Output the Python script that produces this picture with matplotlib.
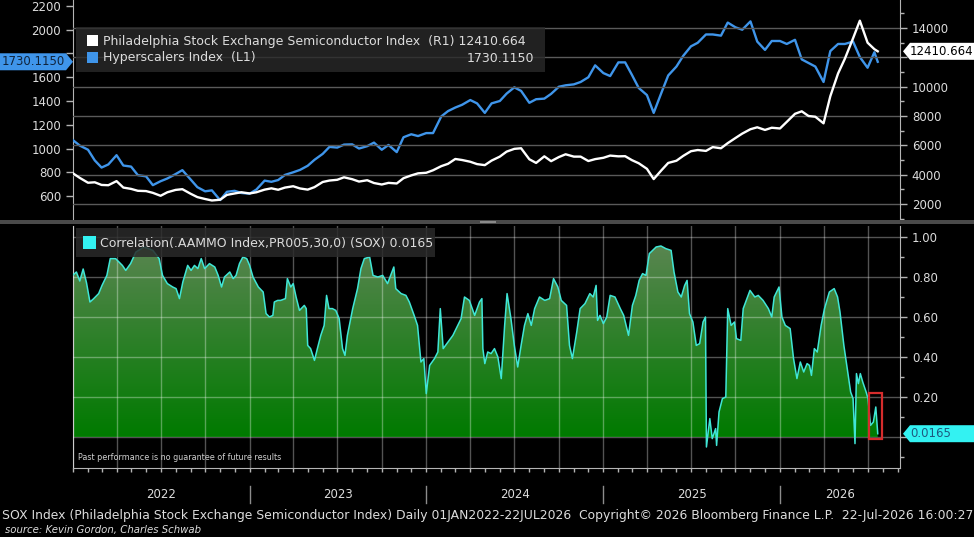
import numpy as np
import pandas as pd
import matplotlib
matplotlib.use('Agg')
import matplotlib.pyplot as plt
import matplotlib.dates as mdates
from matplotlib.colors import LinearSegmentedColormap
from matplotlib.patches import Rectangle, Polygon
from matplotlib.lines import Line2D
from matplotlib.ticker import MultipleLocator, FuncFormatter
from matplotlib.transforms import blended_transform_factory, IdentityTransform

# ---- data ----
# top panel: 1st and 15th of each month, Jan 2022 .. Jul 2026, plus last print
top_dates = list(pd.date_range('2022-01-01', '2026-07-15', freq='SMS')) + [pd.Timestamp('2026-07-22')]

hyper_vals = [
    1070, 1025, 990, 900, 840, 866, 944, 857, 848, 776, 766, 692,
    725, 748, 785, 818, 740, 675, 640, 648, 566, 636, 644, 626,
    620, 655, 730, 720, 735, 778, 800, 820, 855, 905, 955, 1014,
    1008, 1033, 1035, 1000, 1020, 1050, 990, 1030, 970, 1095, 1120, 1105,
    1130, 1130, 1270, 1315, 1345, 1368, 1408, 1380, 1300, 1380, 1400, 1462,
    1515, 1485, 1385, 1415, 1420, 1460, 1520, 1532, 1540, 1560, 1600, 1700,
    1635, 1610, 1725, 1725, 1620, 1510, 1450, 1300, 1470, 1615, 1690, 1780,
    1860, 1890, 1960, 1960, 1950, 2060, 2020, 2000, 2070, 1900, 1830, 1905,
    1905, 1880, 1915, 1750, 1720, 1690, 1560, 1820, 1880, 1880, 1900, 1770,
    1680, 1810, 1730.115,
]

sox_vals = [
    4091, 3780, 3450, 3480, 3300, 3280, 3560, 3120, 3030, 2900, 2880, 2760,
    2560, 2800, 2960, 3010, 2700, 2470, 2340, 2240, 2290, 2620, 2720, 2800,
    2720, 2800, 2980, 3068, 2970, 3120, 3210, 3060, 2980, 3150, 3500, 3600,
    3650, 3820, 3690, 3530, 3620, 3430, 3330, 3440, 3400, 3760, 3950, 4090,
    4130, 4300, 4580, 4740, 5070, 5000, 4880, 4720, 4650, 4960, 5230, 5570,
    5760, 5800, 5050, 4800, 5250, 4920, 5200, 5390, 5230, 5230, 4930, 5060,
    5150, 5300, 5250, 5260, 4990, 4780, 4400, 3700, 4300, 4800, 4950, 5280,
    5600, 5680, 5620, 5880, 5800, 6150, 6500, 6800, 7100, 7230, 7050, 7200,
    7150, 7600, 8150, 8320, 8000, 7950, 7500, 9350, 10900, 11900, 13300, 14500,
    13000, 12560, 12410.664,
]

# bottom panel: 30-day rolling correlation
corr_dates = [
    '2022-01-01', '2022-01-08', '2022-01-15', '2022-01-22', '2022-01-25', '2022-01-29',
    '2022-02-05', '2022-02-12', '2022-02-23', '2022-03-02', '2022-03-12', '2022-03-19',
    '2022-03-30', '2022-04-13', '2022-04-20', '2022-04-30', '2022-05-11', '2022-05-28',
    '2022-06-15', '2022-06-28', '2022-07-05', '2022-07-15', '2022-07-26', '2022-08-02',
    '2022-08-09', '2022-08-16', '2022-08-26', '2022-09-02', '2022-09-09', '2022-09-16',
    '2022-09-23', '2022-09-30', '2022-10-10', '2022-10-21', '2022-10-28', '2022-11-04',
    '2022-11-10', '2022-11-21', '2022-11-28', '2022-12-04', '2022-12-11', '2022-12-18',
    '2022-12-26', '2023-01-01', '2023-01-08', '2023-01-19', '2023-01-29', '2023-02-04',
    '2023-02-11', '2023-02-18', '2023-02-21', '2023-02-28', '2023-03-06', '2023-03-16',
    '2023-03-20', '2023-03-27', '2023-04-01', '2023-04-07', '2023-04-14', '2023-04-24',
    '2023-04-28', '2023-05-01', '2023-05-07', '2023-05-15', '2023-05-21', '2023-05-28',
    '2023-06-04', '2023-06-09', '2023-06-14', '2023-06-21', '2023-06-28', '2023-07-05',
    '2023-07-12', '2023-07-17', '2023-07-22', '2023-08-02', '2023-08-12', '2023-08-19',
    '2023-08-26', '2023-09-06', '2023-09-13', '2023-09-23', '2023-10-03', '2023-10-13',
    '2023-10-26', '2023-10-30', '2023-11-10', '2023-11-20', '2023-11-27', '2023-12-07',
    '2023-12-14', '2023-12-21', '2023-12-27', '2024-01-01', '2024-01-08', '2024-01-18',
    '2024-01-25', '2024-01-30', '2024-02-05', '2024-02-15', '2024-02-25', '2024-03-06',
    '2024-03-13', '2024-03-20', '2024-03-30', '2024-04-10', '2024-04-20', '2024-04-25',
    '2024-04-27', '2024-05-01', '2024-05-07', '2024-05-14', '2024-05-21', '2024-05-28',
    '2024-06-04', '2024-06-11', '2024-06-16', '2024-06-24', '2024-07-01', '2024-07-08',
    '2024-07-15', '2024-07-22', '2024-07-29', '2024-08-05', '2024-08-12', '2024-08-22',
    '2024-09-02', '2024-09-12', '2024-09-20', '2024-09-29', '2024-10-06', '2024-10-17',
    '2024-10-23', '2024-10-29', '2024-11-07', '2024-11-14', '2024-11-24', '2024-12-04',
    '2024-12-11', '2024-12-17', '2024-12-20', '2024-12-25', '2025-01-01', '2025-01-08',
    '2025-01-15', '2025-01-25', '2025-02-05', '2025-02-12', '2025-02-22', '2025-03-02',
    '2025-03-09', '2025-03-16', '2025-03-23', '2025-03-30', '2025-04-06', '2025-04-20',
    '2025-04-30', '2025-05-10', '2025-05-21', '2025-05-27', '2025-06-04', '2025-06-11',
    '2025-06-18', '2025-06-23', '2025-06-28', '2025-07-05', '2025-07-12', '2025-07-19',
    '2025-07-26', '2025-07-31', '2025-08-02', '2025-08-09', '2025-08-14', '2025-08-21',
    '2025-08-23', '2025-08-28', '2025-09-04', '2025-09-11', '2025-09-15', '2025-09-22',
    '2025-09-29', '2025-10-03', '2025-10-12', '2025-10-17', '2025-10-31', '2025-11-10',
    '2025-11-17', '2025-11-27', '2025-12-08', '2025-12-15', '2025-12-20', '2025-12-30',
    '2026-01-05', '2026-01-12', '2026-01-22', '2026-01-29', '2026-02-05', '2026-02-12',
    '2026-02-19', '2026-02-26', '2026-03-03', '2026-03-07', '2026-03-13', '2026-03-19',
    '2026-03-27', '2026-04-03', '2026-04-13', '2026-04-23', '2026-04-30', '2026-05-05',
    '2026-05-13', '2026-05-20', '2026-05-27', '2026-06-01', '2026-06-05', '2026-06-08',
    '2026-06-12', '2026-06-16', '2026-06-21', '2026-06-28', '2026-07-02', '2026-07-07',
    '2026-07-13', '2026-07-18', '2026-07-22',
]
corr_vals = [
    0.81, 0.825, 0.78, 0.84, 0.81, 0.77,
    0.675, 0.69, 0.717, 0.758, 0.808, 0.892,
    0.892, 0.858, 0.833, 0.867, 0.925, 0.95,
    0.933, 0.892, 0.808, 0.767, 0.75, 0.742,
    0.692, 0.775, 0.858, 0.833, 0.858, 0.842,
    0.892, 0.842, 0.867, 0.85, 0.808, 0.75,
    0.80, 0.825, 0.792, 0.808, 0.867, 0.90,
    0.892, 0.858, 0.80, 0.75, 0.725, 0.617,
    0.60, 0.608, 0.675, 0.683, 0.683, 0.692,
    0.792, 0.75, 0.767, 0.70, 0.633, 0.658,
    0.642, 0.458, 0.442, 0.383, 0.442, 0.508,
    0.558, 0.708, 0.642, 0.642, 0.633, 0.592,
    0.442, 0.408, 0.508, 0.642, 0.742, 0.842,
    0.892, 0.90, 0.808, 0.80, 0.808, 0.767,
    0.85, 0.742, 0.717, 0.708, 0.675, 0.608,
    0.558, 0.375, 0.392, 0.217, 0.358, 0.392,
    0.425, 0.642, 0.442, 0.475, 0.508, 0.558,
    0.592, 0.70, 0.683, 0.608, 0.675, 0.692,
    0.442, 0.367, 0.425, 0.417, 0.442, 0.40,
    0.292, 0.558, 0.717, 0.592, 0.458, 0.35,
    0.458, 0.558, 0.617, 0.558, 0.642, 0.70,
    0.683, 0.692, 0.792, 0.75, 0.683, 0.658,
    0.458, 0.392, 0.525, 0.642, 0.667, 0.717,
    0.70, 0.758, 0.583, 0.608, 0.567, 0.60,
    0.708, 0.70, 0.642, 0.608, 0.508, 0.658,
    0.708, 0.783, 0.817, 0.808, 0.917, 0.95,
    0.955, 0.942, 0.933, 0.825, 0.725, 0.70,
    0.758, 0.783, 0.617, 0.575, 0.458, 0.467,
    0.575, 0.60, -0.05, 0.092, -0.008, 0.042,
    -0.042, 0.125, 0.192, 0.20, 0.642, 0.558,
    0.575, 0.492, 0.483, 0.642, 0.733, 0.70,
    0.708, 0.683, 0.642, 0.60, 0.70, 0.75,
    0.60, 0.558, 0.542, 0.392, 0.292, 0.375,
    0.325, 0.367, 0.358, 0.308, 0.442, 0.425,
    0.558, 0.642, 0.725, 0.742, 0.70, 0.625,
    0.458, 0.342, 0.225, 0.192, -0.033, 0.317,
    0.267, 0.317, 0.275, 0.225, 0.192, 0.058,
    0.075, 0.15, 0.0165,
]

years = [2022, 2023, 2024, 2025, 2026]
x_start, x_end = pd.Timestamp('2022-01-01'), pd.Timestamp('2026-09-06')

# red highlight box on the last few weeks
box_start, box_end = pd.Timestamp('2026-07-03'), pd.Timestamp('2026-07-31')
box_low, box_high = -0.01, 0.22

# tick labels hidden under the last-value tags
hidden_left, hidden_right, hidden_corr = 1800, 12000, 0.0

sox_label = 'Philadelphia Stock Exchange Semiconductor Index  (R1) 12410.664'
hyper_label = 'Hyperscalers Index  (L1)'
corr_label = 'Correlation(.AAMMO Index,PR005,30,0) (SOX) 0.0165'
footer = ('SOX Index (Philadelphia Stock Exchange Semiconductor Index) Daily 01JAN2022-22JUL2026  '
          'Copyright\u00a9 2026 Bloomberg Finance L.P.  22-Jul-2026 16:00:27')
source = 'source: Kevin Gordon, Charles Schwab'

# ---- styling ----
BLUE = '#3f95ea'
CYAN = '#40e6d6'
SPINE = '#b4b4b4'
TXT = '#dcdcdc'
W, H = 974, 537


def fx(px):
    return px / W


def fy(py):
    return 1 - py / H


def skip_fmt(hidden, fmt):
    return FuncFormatter(lambda v, pos: '' if abs(v - hidden) < 1e-9 else fmt.format(v))


plt.rcParams['font.family'] = ['DejaVu Sans']
fig = plt.figure(figsize=(W / 100, H / 100), dpi=100, facecolor='black')

# ---- top panel ----
ax1 = fig.add_axes([fx(73), fy(219), fx(900) - fx(73), 219 / H])
ax1r = ax1.twinx()
ax1.set_facecolor('black')

ax1.plot(pd.to_datetime(top_dates), hyper_vals, color=BLUE, lw=1.7, zorder=3)
ax1r.plot(pd.to_datetime(top_dates), sox_vals, color='white', lw=1.7, zorder=3)

ax1.set_xlim(x_start, x_end)
ax1.set_ylim(407, 2250)
ax1r.set_ylim(977, 15910)

ax1.yaxis.set_major_locator(MultipleLocator(200))
ax1.yaxis.set_major_formatter(skip_fmt(hidden_left, '{:.0f}'))
ax1r.yaxis.set_major_locator(MultipleLocator(2000))
ax1r.yaxis.set_minor_locator(MultipleLocator(1000))
ax1r.yaxis.set_major_formatter(skip_fmt(hidden_right, '{:.0f}'))
ax1r.set_axisbelow(True)
ax1r.grid(axis='y', which='major', color='#5a5a5a', lw=1.0)

for a in (ax1, ax1r):
    for s in a.spines.values():
        s.set_visible(False)
    a.tick_params(axis='x', bottom=False, labelbottom=False)
ax1.spines['left'].set_visible(True)
ax1.spines['left'].set_color(SPINE)
ax1r.spines['right'].set_visible(True)
ax1r.spines['right'].set_color(SPINE)
ax1.tick_params(axis='y', colors=SPINE, labelcolor=TXT, labelsize=8.5, length=5, width=1)
ax1r.tick_params(axis='y', which='major', colors=SPINE, labelcolor=TXT, labelsize=8.5, length=5, width=1)
ax1r.tick_params(axis='y', which='minor', colors=SPINE, length=3, width=1)

# ---- bottom panel ----
ax2 = fig.add_axes([fx(73), fy(468), fx(900) - fx(73), (468 - 226) / H])
ax2.set_facecolor('black')
cd = pd.to_datetime(corr_dates)
fill = ax2.fill_between(cd, corr_vals, 0, color='none', lw=0)
ylo, yhi = -0.155, 1.055
grad = np.clip(np.linspace(ylo, 1.0, 256), 0, 1).reshape(-1, 1)
cmap = LinearSegmentedColormap.from_list('bbg', ['#007a00', '#5d8654'])
xn0, xn1 = mdates.date2num(x_start), mdates.date2num(x_end)
im = ax2.imshow(grad, extent=[xn0, xn1, ylo, 1.0], origin='lower', aspect='auto',
                cmap=cmap, vmin=0, vmax=1, zorder=1)
im.set_clip_path(fill.get_paths()[0], transform=ax2.transData)
ax2.plot(cd, corr_vals, color=CYAN, lw=1.1, zorder=4)

ax2.add_patch(Rectangle((mdates.date2num(box_start), box_low),
                        mdates.date2num(box_end) - mdates.date2num(box_start),
                        box_high - box_low, fill=False, edgecolor='#d62c2c', lw=1.6, zorder=6))

ax2.set_xlim(x_start, x_end)
ax2.set_ylim(ylo, yhi)
ax2.yaxis.tick_right()
ax2.yaxis.set_major_locator(MultipleLocator(0.2))
ax2.yaxis.set_minor_locator(MultipleLocator(0.1))
ax2.yaxis.set_major_formatter(skip_fmt(hidden_corr, '{:.2f}'))
ax2.xaxis.set_major_locator(mdates.MonthLocator(bymonth=[1, 4, 7, 10]))
ax2.xaxis.set_minor_locator(mdates.MonthLocator())
ax2.set_axisbelow(False)
ax2.grid(which='major', color='white', alpha=0.33, lw=1.0)
for s in ax2.spines.values():
    s.set_color(SPINE)
ax2.spines['top'].set_visible(False)
ax2.tick_params(axis='y', which='major', colors=SPINE, labelcolor=TXT, labelsize=8.5, length=5, width=1)
ax2.tick_params(axis='y', which='minor', colors=SPINE, length=3, width=1)
ax2.tick_params(axis='x', which='both', colors=SPINE, length=3, width=1, labelbottom=False)

# ---- separator bar between the panels ----
fig.add_artist(Rectangle((0, fy(224)), 1, 4 / H, transform=fig.transFigure,
                         facecolor='#4a4a4a', edgecolor='none', zorder=2))
fig.add_artist(Rectangle((fx(480), fy(223)), fx(16), 2 / H, transform=fig.transFigure,
                         facecolor='#8a8a8a', edgecolor='none', zorder=2))

# ---- legends ----
fig.add_artist(Rectangle((fx(76), fy(72)), fx(545) - fx(76), 45 / H, transform=fig.transFigure,
                         facecolor='#2a2a2a', alpha=0.8, edgecolor='none', zorder=4))
fig.add_artist(Rectangle((fx(87), fy(46)), fx(11), 11 / H, transform=fig.transFigure,
                         facecolor='white', edgecolor='none', zorder=5))
fig.add_artist(Rectangle((fx(87), fy(63)), fx(11), 11 / H, transform=fig.transFigure,
                         facecolor=BLUE, edgecolor='none', zorder=5))
fig.text(fx(103), fy(41), sox_label, color=TXT, fontsize=9, va='center', zorder=6)
fig.text(fx(103), fy(58), hyper_label, color=TXT, fontsize=9, va='center', zorder=6)
fig.text(fx(534), fy(58), f'{hyper_vals[-1]:.4f}', color=TXT, fontsize=9, va='center',
         ha='right', zorder=6)

fig.add_artist(Rectangle((fx(76), fy(257)), fx(435) - fx(76), 29 / H, transform=fig.transFigure,
                         facecolor='#2a2a2a', alpha=0.85, edgecolor='none', zorder=4))
fig.add_artist(Rectangle((fx(83), fy(249)), fx(13), 13 / H, transform=fig.transFigure,
                         facecolor='#33f2f2', edgecolor='none', zorder=5))
fig.text(fx(100), fy(243), corr_label, color=TXT, fontsize=9, va='center', zorder=6)

fig.text(fx(78), fy(458), 'Past performance is no guarantee of future results',
         color='#cfcfcf', fontsize=5.8, va='center')


# ---- last-value tags on the axes ----
def tag(ax, value, label, side, face, ink):
    ypix = ax.transData.transform((0, value))[1]
    h = 17
    if side == 'right':
        tip = fig.transFigure.transform((fx(903), 0))[0]
        pts = [(tip, ypix), (tip + 7, ypix + h / 2), (W, ypix + h / 2),
               (W, ypix - h / 2), (tip + 7, ypix - h / 2)]
        tx = tip + 7
    else:
        tip = fig.transFigure.transform((fx(73), 0))[0]
        pts = [(0, ypix + h / 2), (tip - 7, ypix + h / 2), (tip, ypix),
               (tip - 7, ypix - h / 2), (0, ypix - h / 2)]
        tx = 2
    fig.add_artist(Polygon(pts, closed=True, transform=IdentityTransform(),
                           facecolor=face, edgecolor='none', zorder=7))
    fig.text(tx / W, ypix / H, label, color=ink, fontsize=8.5, va='center', ha='left', zorder=8)


tag(ax1, hyper_vals[-1], f'{hyper_vals[-1]:.4f}', 'left', BLUE, '#10243c')
tag(ax1r, sox_vals[-1], f'{sox_vals[-1]:.3f}', 'right', 'white', 'black')
tag(ax2, corr_vals[-1], f'{corr_vals[-1]:.4f}', 'right', '#33f2f2', '#1d5a80')

# ---- year axis under the chart ----
blend = blended_transform_factory(ax2.transData, fig.transFigure)
for yr in years:
    a = max(pd.Timestamp(f'{yr}-01-01'), x_start)
    b = min(pd.Timestamp(f'{yr + 1}-01-01'), x_end)
    mid = a + (b - a) / 2
    ax2.text(mid, fy(494), str(yr), transform=blend, color=TXT, fontsize=8.5,
             ha='center', va='center', clip_on=False)
    if yr > years[0]:
        xd = mdates.date2num(pd.Timestamp(f'{yr}-01-01'))
        fig.add_artist(Line2D([xd, xd], [fy(486), fy(503)], transform=blend,
                              color='#8c8c8c', lw=1))

fig.text(fx(2), fy(515), footer, color=TXT, fontsize=8.9, va='center')
fig.text(fx(5), fy(530), source, color=TXT, fontsize=7.3, style='italic', va='center')

fig.savefig('out.png', dpi=100, facecolor='black')
